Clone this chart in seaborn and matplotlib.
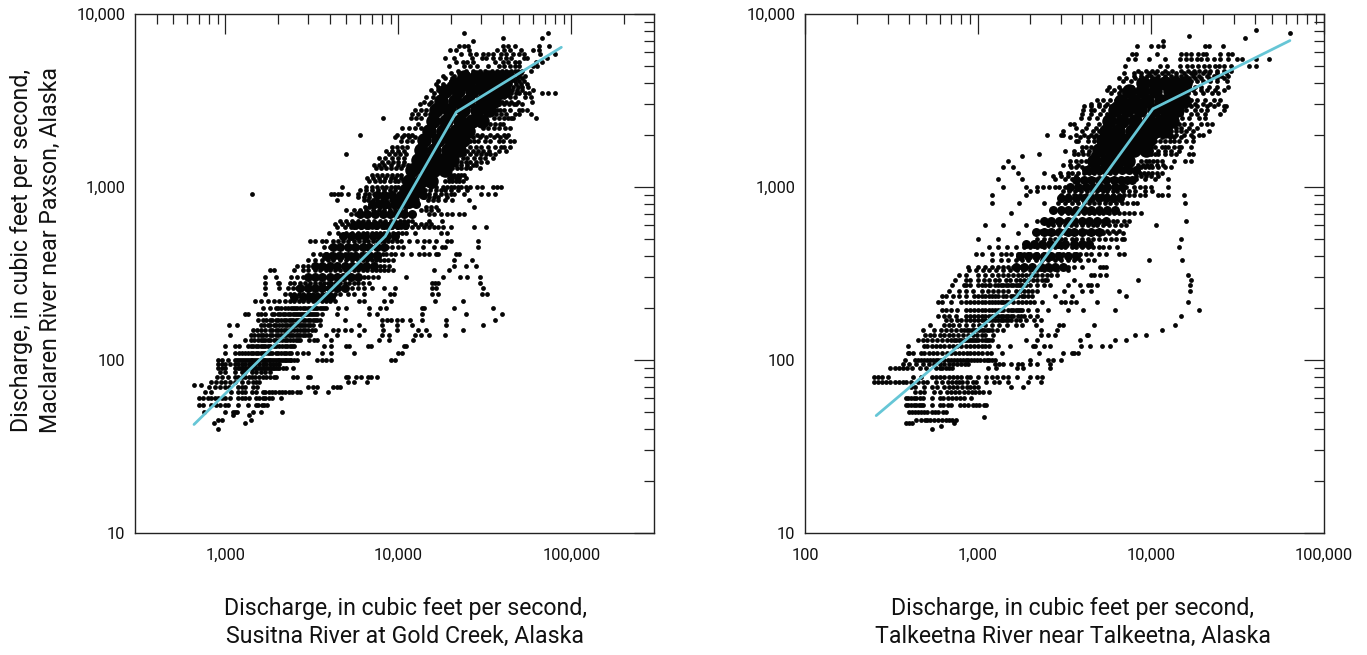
import matplotlib
matplotlib.use("Agg")
import matplotlib.pyplot as plt
import pandas as pd
import seaborn as sns
from matplotlib.ticker import FixedLocator, FuncFormatter, NullFormatter

# ── Data (cfs) ────────────────────────────────────────────────────────────────
# each entry is one Maclaren flow and the flows of the other river on those days
left_rows = {
    7800: [24000, 73500], 7300: [40000, 68000], 7000: [27000],
    6500: [22300, 24000, 25300, 40000, 43000, 47000, 65000, 74000],
    6200: [19800, 21500, 25500, 37000, 41000, 44000, 51000, 60000, 65000],
    5900: [23000, 26000, 28000, 31000, 33000, 35000, 39000, 42000, 46000, 50000, 53000, 66000, 80000],
    5600: [18500, 21000, 26500, 30500, 32000, 35000, 38500, 42000, 45000, 53000, 55000, 72000],
    5300: [21500, 23500, 25000, 27000, 36000, 40000, 43000, 47000, 50000, 62000, 68000],
    5000: [19500, 24000, 26000, 28500, 33000, 38000, 41000, 44000, 47000, 50000, 60000, 63000],
    4700: [22000, 24500, 27000, 29500, 31500, 34500, 37000, 39500, 42000, 44500, 47000, 49000, 52000, 58000],
    4550: [20000, 22500, 25000, 27500, 30000, 32500, 35500, 38500, 41000, 45000, 48500, 51000],
    4400: [18000, 21000, 23000, 25500, 28000, 30000, 33000, 36000, 40000, 43000, 46000, 50000, 54000],
    4250: [18500, 20500, 22500, 24500, 27000, 29500, 32000, 35000, 38500, 42000, 45500, 48500, 52000],
    4100: [17000, 20000, 21500, 24000, 26000, 28500, 31000, 34000, 37000, 41000, 44000, 47000, 50000, 53000],
    3950: [16500, 18000, 19500, 38000, 41500, 44000, 47500, 51000, 55000],
    3800: [17000, 19000, 38000, 40000, 43000, 46000, 49000, 52000, 56000],
    3650: [15500, 17000, 19000, 39000, 41500, 45500, 48500, 52000, 60000],
    3500: [16000, 18000, 40000, 42000, 44500, 47500, 50000, 54000, 57000, 68000, 73000, 80000],
    3300: [14500, 15800, 17500, 39000, 41000, 44000, 47000, 54000, 58000],
    3100: [14000, 15500, 37000, 39500, 42000, 45000, 49000, 59000],
    3000: [13300, 15000, 16500, 38000, 40500, 43500, 46500, 48000, 51500],
    2800: [12500, 13500, 14500, 37000, 38500, 41000, 44000, 50000, 52000, 55000],
    2650: [12000, 13000, 14200, 15200, 36500, 39000, 42000, 47000, 49500, 58000],
    2500: [8180, 11800, 12600, 13500, 35500, 38000, 40500, 43000, 45000, 46000, 62000],
    2300: [13000, 34000, 36000, 38500, 40000],
    2200: [10500, 11500, 12500, 13500, 31000, 33000, 35500, 38000, 41500, 44000],
    2000: [5970, 9800, 10700, 11400, 12000, 28500, 30500, 34000, 37000, 41000, 43000],
    1950: [9500, 10500, 11500, 12500, 27000, 29500, 32000, 35500, 38500, 42000],
    1850: [10300, 11200, 12000, 26000, 27500, 29000, 31500, 34000, 38000, 40000, 44000, 46500],
    1700: [9200, 9800, 10500, 11200, 26000, 28000, 30000, 33000, 36000, 39000, 41000, 44000],
    1620: [8500, 9200, 10000, 10800, 25000, 27000, 29000, 31000, 33500, 38000, 42000],
    1550: [4990, 8800, 9500, 10200, 11000, 24000, 26000, 28000, 30000, 32000, 34000, 36000],
    1480: [7700, 8400, 9200, 9900, 10800, 23500, 25000, 27500, 29500, 31500, 35000],
    1400: [8000, 8700, 9300, 10000, 10700, 23000, 24500, 26000, 28000, 30000, 32500],
    1340: [7200, 7700, 8300, 9000, 9900, 10600, 11300, 21500, 23000, 25000, 27000, 28000],
    1280: [7400, 7900, 8500, 9100, 9700, 10300, 20500, 21800, 23000, 24500, 26000, 29500],
    1180: [7000, 7500, 8000, 8600, 9200, 9800, 10400, 20000, 21000, 22000, 23000, 24000],
    1130: [6600, 7100, 7700, 8400, 9000, 9600, 10300, 19500, 20500, 21500, 22500, 24500],
    1090: [6800, 7300, 7800, 8300, 8900, 9500, 10000, 10600, 11300, 18500, 19500, 20500, 21500, 22500, 23500],
    1000: [4700, 6500, 7000, 7500, 8000, 8500, 9000, 9500, 10000, 10600, 15500, 16500, 18000, 19000, 20000, 21000,
           22000, 23000, 24500, 26000, 28500, 30500, 35000, 37000, 39000],
    960: [6000, 6500, 7000, 7600, 8200, 8900, 9500, 14200, 15200, 16500, 17500, 18500, 20000, 22000, 25000],
    915: [1415, 4050, 4250, 4450, 4650, 5100, 5800, 6400, 6800, 7200, 7700, 8200, 8700, 9200, 15000, 16200, 17500,
          18800, 20000, 21000, 24000, 30000, 33000, 36000],
    880: [5800, 6300, 6800, 7400, 8000, 8600, 9300, 10000, 14000, 15000, 16000, 17000, 19000],
    840: [4400, 6300, 6700, 7100, 7500, 8000, 8500, 9000, 9600, 10200, 14800, 15800, 17000, 18500, 20300, 25500],
    770: [6400, 6800, 7200, 7800, 8300, 8800, 9400, 9900, 10400, 11000, 14500, 15500, 16500, 27500],
    735: [5000, 5500, 6000, 6500, 7100, 7700, 8300, 8900, 9600, 10200, 10900, 13500, 14500, 15500, 17000],
    700: [5300, 5700, 6200, 6600, 7000, 7500, 8100, 8700, 9300, 9900, 10500, 11200, 15000, 16000, 17500, 19000,
          20500, 22500, 24000],
    640: [4600, 5000, 5400, 5800, 6200, 6700, 7200, 7800, 8400, 9000, 9600, 10200, 10800, 11400, 12000, 15100, 17800],
    615: [4300, 4700, 5100, 5500, 6000, 6500, 7000, 7500, 8100, 8700, 9300, 12500, 13500, 14500, 15500],
    590: [4400, 4900, 5300, 5700, 6100, 6500, 7000, 7500, 8000, 8600, 9200, 9800, 10400, 11000, 12000, 13000, 14000,
          15000, 16000, 17000, 18000, 20000, 27500, 32000],
    540: [3980, 4500, 5000, 5400, 5800, 6200, 6600, 7000, 7400, 7800, 8200, 8700, 9300, 9900, 10500, 11000, 12500,
          17500, 19000],
    490: [3100, 3300, 3600, 3800, 4200, 4500, 4800, 5100, 5500, 5900, 6300, 6700, 7100, 7500, 7900, 8300, 8700, 9200,
          9800, 10400, 11500, 12800, 14000, 15000, 16500, 19000, 20000, 29000],
    450: [3700, 4000, 4300, 4600, 5000, 5400, 5800, 6200, 6600, 7000, 7400, 7800, 8200, 8600, 9200, 10000, 10600,
          13800, 16000, 17800, 18700, 29000],
    410: [3200, 3500, 3800, 4100, 4500, 4900, 5300, 5700, 6100, 6500, 6900, 7300, 7700, 8100, 8500, 9000, 9500, 10500,
          11800, 13100, 14000, 15000, 16500, 17000, 21500, 22500],
    380: [3000, 3300, 3600, 3900, 4200, 4600, 5000, 5400, 5800, 6200, 6600, 7000, 7400, 7800, 8300, 8700, 9300, 21000,
          26500],
    350: [2600, 2800, 3000, 3300, 3500, 3800, 4200, 4500, 4900, 5300, 5700, 6100, 6500, 6900, 7300, 7800, 8200, 8800,
          21000, 24500, 28000],
    330: [1800, 1900, 2500, 2800, 3000, 3300, 3500, 3800, 4000, 4300, 4600, 4900, 5200, 5500, 5800, 6200, 6600, 7000,
          7400, 7800, 8300, 8700, 9300, 16000, 19500],
    300: [1690, 1950, 2400, 2600, 2800, 3000, 3200, 3500, 3700, 3900, 4200, 4400, 4700, 5000, 5300, 5600, 6000, 6300,
          6700, 7100, 7600, 11000, 18200, 22800, 25000, 29800],
    280: [1690, 2000, 2050, 2350, 2500, 2700, 2900, 3100, 3300, 3500, 3700, 3900, 4100, 4300, 4600, 4900, 5200, 5500,
          5800, 6200, 6800, 15700, 16300, 17000, 29500],
    262: [1690, 2030, 2300, 2450, 2600, 2800, 3000, 3150, 3400, 3600, 3800, 4000, 4300, 4600, 5000, 5400, 5800, 6300,
          7000, 8300, 9500, 15700, 16500, 31000],
    240: [1690, 2200, 2350, 2500, 2650, 2800, 3000, 3200, 3400, 3600, 3800, 4000, 4300, 4600, 5100, 5500, 6300, 8900,
          9400, 15700, 17000, 30500, 32500],
    220: [1480, 1600, 1750, 1900, 2050, 2200, 2350, 2500, 2650, 2800, 3000, 3200, 3400, 3600, 3800, 4000, 4300, 5900,
          6300, 8200, 9000, 16300, 23500],
    200: [1640, 1800, 1950, 2100, 2300, 2450, 2600, 2800, 3000, 3200, 3400, 3600, 3800, 4500, 5000, 6800, 7800, 8500,
          13600, 14000, 21000, 35000],
    184: [1290, 1350, 1550, 1600, 1700, 1850, 2000, 2150, 2300, 2450, 2600, 2750, 2900, 3050, 3200, 3400, 3600, 4400,
          6800, 7500, 13700, 24500, 39500],
    170: [1550, 1650, 1800, 1950, 2100, 2250, 2400, 2550, 2700, 2900, 3100, 3300, 3500, 4900, 8000, 8600, 9000, 9800,
          10500, 11700, 13600, 18900, 36000],
    160: [1050, 1170, 1600, 1750, 1900, 2050, 2200, 2350, 2500, 2650, 2800, 3000, 3200, 3500, 5900, 8000, 9800, 12000,
          18900, 31000],
    150: [1450, 1600, 1800, 1950, 2100, 2250, 2400, 2600, 2800, 3000, 3300, 4200, 4500, 4900, 5300, 6300, 8100, 9800,
          13000, 14500, 23500],
    140: [1060, 1400, 1550, 1650, 1800, 1950, 2100, 2250, 2400, 2550, 2700, 2900, 3100, 3800, 4400, 5900, 8000, 8800,
          12500, 13500, 15000, 18500],
    130: [1290, 1400, 1550, 1650, 1750, 1900, 2050, 2200, 2350, 2550, 2700, 3050, 3250, 3400, 4100, 7700, 8800, 12100],
    120: [1000, 1130, 1200, 1350, 1450, 1550, 1650, 1750, 1900, 2050, 2200, 2350, 2500, 3700, 4100, 5000, 5200, 6700,
          6900, 10800, 11000],
    110: [1000, 1130, 1200, 1300, 1400, 1500, 1600, 1700, 1800, 1950, 2100, 2250, 2400, 2600, 2800, 3000, 3600, 4100,
          5500, 10000, 10500],
    100: [900, 950, 1030, 1130, 1200, 1260, 1330, 1400, 1470, 1550, 1620, 1700, 1780, 1860, 1950, 2050, 2150, 2250,
          2350, 2500, 2600, 3400, 3600, 3800, 4100, 9000, 9500],
    95: [900, 950, 1000, 1060, 1130, 1180, 1240, 1300, 1360, 1420, 1490, 1560, 1640, 1720, 1800, 1880, 1950, 2050],
    90: [900, 950, 1000, 1130, 1180, 1240, 1300, 1360, 1420, 1490, 1560, 1640, 1720, 1800, 1880, 1950, 2050, 2150,
         2250, 2450],
    85: [930, 1000, 1130, 1240, 1300, 1420, 1500, 1600, 1700, 1800],
    80: [890, 960, 1040, 1130, 1180, 1240, 1300, 1360, 1420, 1490, 1560, 1640, 1720, 1800, 1900, 1970, 2450, 2600,
         3000, 3100, 4960, 5100, 5700, 6100, 6700, 6900, 7500],
    75: [830, 880, 940, 990, 1060, 1130, 1240, 1350, 1450, 1500, 1560, 5100, 5500, 6600],
    72: [660, 720],
    70: [800, 870, 930, 1000, 1050, 1180, 1240, 1290, 1450, 1530, 3000, 3200, 3400, 4200, 4400, 4600],
    65: [760, 830, 1080, 1180, 1240, 1300, 1420, 1500, 1640, 1700, 1780, 1850, 1940, 2030, 2120, 2220, 2320, 2430,
         2600, 2700, 3300, 3900],
    60: [700, 740, 790, 830, 870, 910, 950, 1000, 1060, 1180, 1240, 1300, 1360, 1500, 1560, 1640, 1700, 1780, 1850, 2100],
    55: [700, 740, 830, 880, 930, 1000, 1030, 1180, 1350, 1500, 1550, 1620, 1680, 1740],
    50: [750, 1000, 1100, 1130, 1170, 1450, 1600, 2120],
    48: [1100, 1360], 45: [900, 950, 1400], 43: [860, 1290], 40: [900],
}

# more days on the crowded low rows
left_low = {
    200: [2000, 2200, 2380, 2530, 2700, 2900, 3100, 3300, 3500, 3700],
    184: [1920, 2070, 2220, 2370, 2520, 2670, 2820, 2970, 3120, 3300],
    170: [1720, 1870, 2020, 2170, 2320, 2470, 2620, 2800, 3000, 3200, 3400],
    160: [1670, 1820, 1970, 2120, 2270, 2420, 2570, 2720, 2900, 3100],
    150: [1530, 1700, 1870, 2020, 2170, 2320, 2500, 2700, 2900, 3150],
    140: [1470, 1600, 1720, 1870, 2020, 2170, 2320, 2470, 2620, 2800, 3000],
    130: [1470, 1600, 1700, 1820, 1970, 2120, 2270, 2450, 2620],
    120: [1400, 1500, 1600, 1700, 1820, 1970, 2120, 2270, 2420],
    110: [1250, 1350, 1450, 1550, 1650, 1750, 1870, 2020, 2170, 2320],
    100: [1160, 1230, 1300, 1370, 1430, 1510, 1580, 1660, 1740, 1820, 1900, 2000, 2100, 2200, 2300, 2400],
    90: [1210, 1270, 1330, 1390, 1450, 1520, 1600, 1680, 1760, 1840, 1920, 2000],
}

# the black middle of the cloud, where single days cannot be told apart
left_core = {
    4300: [24000, 28000, 33000, 38000, 43000],
    3950: [21100, 25300, 30300, 35500, 41000],
    3610: [18500, 22100, 26500, 31700, 37000, 41000],
    3160: [17600, 21100, 25300, 30300, 35500],
    2770: [16500, 19700, 23700, 28300, 33200],
    2420: [15800, 18900, 22600, 26500, 30300],
    2120: [15100, 18000, 21600, 25300],
    1860: [14100, 16900, 20200, 23700],
    1630: [13500, 16100, 19300, 22300],
    1425: [12900, 15100, 17600, 20500],
    1250: [12000, 14100, 16100, 18500],
    1090: [11500, 13500, 15500],
    956: [11000, 12900],
    838: [10300, 12000],
}

# nearly black parts further down the band
left_mid = {
    900: [7500, 8300, 9200, 10200, 11300, 12500, 13800],
    800: [7000, 7700, 8500, 9400, 10400, 11500, 12700],
    700: [6000, 6600, 7300, 8100, 8900, 9800, 10800, 11900],
    600: [5500, 6100, 6700, 7400, 8200, 9000, 9900, 10900],
    520: [4800, 5300, 5800, 6400, 7100, 7800, 8600, 9500],
    450: [4200, 4600, 5100, 5600, 6200, 6800, 7500, 8300],
    400: [3800, 4200, 4600, 5100, 5600, 6200, 6800, 7500],
    350: [3300, 3600, 4000, 4400, 4900, 5400, 5900, 6500, 7200],
    300: [3000, 3300, 3600, 4000, 4400, 4800, 5300, 5800],
    260: [2700, 3000, 3300, 3600, 4000, 4400, 4900],
    230: [2500, 2800, 3100, 3400, 3700, 4100],
}

right_rows = {
    8100: [40300], 7750: [63200], 7500: [16500], 7280: [34900], 7000: [11700],
    6500: [8300, 9950, 11000, 11700, 20500, 21600, 26000],
    5900: [7750, 8180, 10800, 14900, 15900, 17000, 18600, 20000, 20900, 25000, 27800, 29500],
    5500: [7400, 8100, 9700, 12000, 14800, 16000, 17000, 18500, 19500, 21000, 23000, 25000, 28000, 31500, 33500, 40500, 48000],
    5000: [7100, 11200, 12300, 14700, 16200, 17200, 18800, 20300, 21600, 23300, 24800, 26500, 29000, 37000, 40500],
    4700: [8400, 9300, 10100, 10800, 12000, 13200, 15000, 16300, 17700, 19000, 20400, 22000, 24000, 26500, 29000],
    4550: [7000, 8000, 8800, 9800, 10500, 11500, 12500, 14000, 15500, 17000, 18000, 20000, 21500, 24000, 27000],
    4400: [8000, 8800, 9500, 10000, 11000, 12000, 13000, 14000, 15000, 16000, 17500, 19000, 21000, 23000, 25500, 28000],
    4250: [6500, 7200, 8100, 16500, 18000, 19500, 21500, 24000, 26500],
    4100: [6900, 7700, 14000, 15000, 16000, 17000, 18500, 20000, 22000, 24000, 27500],
    3800: [5700, 6500, 7400, 7800, 13500, 14500, 15500, 16500, 18000, 19500, 21500, 24000, 28000],
    3650: [5600, 6100, 6700, 16500, 17500, 19500, 21000, 23500, 26500],
    3500: [5900, 6500, 7000, 13800, 14500, 15300, 16300, 18000, 20000, 22500, 24500],
    3200: [4900, 5300, 5800, 6300, 14500, 15500, 17000, 18500, 20500, 23000, 25000],
    3000: [4500, 5000, 5600, 6100, 15000, 16500, 18000, 20000, 22000, 24500],
    2950: [4100, 4500, 5000, 5400, 5900, 14500, 15800, 17000, 18500, 21000, 23000, 26500, 27000],
    2800: [4050, 4500, 4700, 5300, 5900, 14000, 15000, 16000, 18000, 19500, 21000, 26500],
    2650: [4000, 4500, 5100, 5600, 14000, 15000, 17000, 18500, 20500, 25000],
    2500: [3950, 4400, 4900, 5700, 6000, 14000, 15200, 16500, 19000, 20500],
    2300: [3400, 3590, 4300, 5000, 5500, 5900, 12500, 13500, 14500, 15500, 17000, 19500, 21000, 22500],
    2200: [3700, 4200, 4800, 5300, 11500, 12800, 14000, 15000, 16500, 18500],
    2100: [3100, 4000, 4600, 5000, 5400, 5700, 11000, 12000, 13000, 14000, 15000, 16000, 17500, 21500],
    2000: [2500, 3000, 3100, 3700, 4100, 4500, 4800, 5200, 5500, 11000, 11800, 12500, 13000, 14000, 15500, 17000, 19000, 20000],
    1950: [3400, 3900, 4300, 4700, 10500, 11500, 12800, 13500, 15000, 17500],
    1850: [3700, 3800, 4300, 4700, 5000, 5400, 10500, 11200, 12000, 12800, 13500, 14500, 16000, 17500],
    1700: [4000, 4200, 4500, 4900, 5200, 5600, 6000, 9500, 10000, 10500, 11500, 12000, 12500, 13500, 14500, 15000, 17000],
    1620: [3200, 3600, 4000, 4400, 10000, 11000, 12000, 13000, 14500],
    1550: [2250, 3600, 3800, 4050, 4300, 4600, 5000, 5300, 5700, 6100, 9500, 10000, 10500, 11000, 12000, 13000, 14000, 16600, 17500],
    1510: [1790],
    1410: [1500, 3400, 3700, 3950, 4200, 4500, 4900, 5200, 5600, 6000, 6400, 8800, 9300, 9800, 10300, 10900, 11500, 13500, 15800, 17000],
    1340: [3100, 3400, 3800, 8400, 9000, 9500, 10000, 10800, 11800],
    1300: [1400, 1590, 3450, 3700, 4000, 4300, 4600, 5000, 5300, 5700, 6100, 6600, 8700, 9200, 9700, 10200, 11000, 12000, 13000],
    1200: [1700, 2410, 2990, 3300, 3500, 3800, 4100, 4400, 4700, 5000, 5400, 5800, 6200, 8100, 8600, 9100, 9600, 10200, 10900, 11500],
    1150: [2700, 3000, 3300, 3700, 8200, 8800, 9400, 10000, 11000],
    1110: [1300, 1790, 2800, 3200, 3500, 3800, 4100, 4400, 4700, 5100, 5500, 5900, 6300, 6700, 7100, 7600, 8200, 9200, 10500, 12500],
    1000: [1400, 1900, 2180, 2390, 2580, 2780, 2950, 3200, 3450, 3700, 4000, 4300, 4600, 4900, 5200, 5600, 6000, 6400, 6800, 7200,
           8000, 8600, 9200, 10000, 12500],
    950: [1990, 2180, 3100, 3350, 3650, 3950, 4250, 4550, 4900, 5250, 5600, 6000, 6400, 6900, 7500, 8100, 9200, 10100],
    900: [1200, 1900, 3000, 3300, 3600, 3900, 4200, 4500, 4800, 5200, 5600, 6000, 6500, 7000, 7500, 8000, 8600, 9200, 11000, 11500, 12500, 15500],
    810: [1200, 1730, 2410, 2900, 3200, 3500, 3800, 4100, 4400, 4700, 5000, 5400, 5800, 6300, 6800, 7300, 7900, 8300, 15800],
    710: [1550, 3000, 3300, 3500, 3800, 4100, 4400, 4700, 5000, 5300, 5700, 6100, 6500, 7000, 7500, 8000, 8800],
    640: [2200, 2700, 2900, 3100, 3300, 3600, 3900, 4200, 4500, 4800, 5200, 5600, 6000, 6400, 7000, 7500, 15900],
    605: [1100, 1400, 1900, 2550, 2700, 2950, 3200, 3450, 3700, 4000, 4300, 4600, 4900, 5300, 5700, 6200, 6700, 7200, 10700],
    560: [2300, 2500, 2700, 2900, 3100, 3300, 3600, 3900, 4200, 4500, 4800, 5200, 5600, 6000, 6500],
    540: [1700, 2350, 2550, 2750, 3000, 3200, 3400, 3700, 4000, 4300, 4600, 4900, 5300, 5700, 6300, 6900],
    500: [1000, 1300, 2200, 2400, 2600, 2800, 3000, 3200, 3500, 3700, 4000, 4300, 4600, 5000, 5400, 5900, 6300, 6800, 7000, 15000],
    450: [1150, 1300, 1480, 1650, 1850, 2000, 2200, 2400, 2600, 2800, 3000, 3200, 3500, 3700, 4000, 4300, 4600, 5000, 5300, 5700, 6400, 14500],
    410: [980, 1060, 1200, 1350, 1450, 1550, 1700, 1850, 2000, 2200, 2400, 2600, 2850, 3100, 3300, 3600, 3900, 4200, 4500, 5000, 5500, 6500, 7000],
    380: [1200, 1350, 1500, 1650, 1800, 1950, 2150, 2350, 2550, 2800, 3000, 3300, 3600, 3900, 4300, 4700, 9700, 15100],
    345: [880, 1000, 1100, 1200, 1300, 1400, 1500, 1600, 1750, 1900, 2050, 2250, 2450, 2650, 2850, 3100, 3300, 3600, 4000, 5050, 5300, 5500],
    330: [890, 970, 1065, 1165, 1275, 1400, 1530, 1670, 1830, 2000, 2190, 2395, 2620, 2870, 3300],
    310: [780, 850, 1000, 1100, 1200, 1300, 1400, 1500, 1600, 1700, 1800, 1900, 2000, 2100, 2200, 2350, 2500, 2650, 2850, 4500, 4700, 5050, 5500, 16400],
    290: [740, 850, 900, 1000, 1080, 1165, 1250, 1330, 1450, 1530, 1650, 1750, 1850, 1950, 2080, 2200, 2350, 2450, 2500, 3600, 8450, 17000],
    270: [710, 830, 850, 900, 1000, 1100, 1180, 1300, 1400, 1500, 1600, 1700, 1750, 1900, 2000, 2200, 2400, 2600, 3300, 3900, 4300, 4500, 4900, 16900],
    250: [680, 780, 850, 930, 1050, 1140, 1220, 1300, 1400, 1500, 1650, 1750, 1850, 1950, 2050, 2200, 3150, 4000, 4500, 6500, 16800],
    235: [620, 650, 720, 780, 850, 950, 1050, 1150, 1250, 1400, 1550, 1650, 1800, 1950, 2050, 2800, 3500, 7200],
    215: [590, 620, 700, 800, 850, 900, 950, 1050, 1150, 1250, 1350, 1450, 1600, 1800, 1900, 2000, 2100, 2350, 3000, 3200, 3450, 3700, 4900, 16300],
    195: [620, 650, 700, 760, 850, 950, 1050, 1150, 1250, 1350, 1500, 1600, 1700, 1800, 1950, 2200, 2550, 3300, 4050, 6200, 19000],
    180: [590, 640, 680, 750, 850, 950, 1050, 1150, 1250, 1350, 1450, 1550, 1700, 1850, 2000, 2200, 15000],
    170: [650, 700, 760, 850, 950, 1050, 1150, 1250, 1350, 1450, 1550, 1750, 1900, 2100, 2300],
    160: [530, 640, 680, 720, 780, 850, 930, 1010, 1100, 1200, 1330, 1470, 1650, 1800, 2150, 2950, 3100, 4700, 13800],
    150: [480, 560, 610, 650, 700, 750, 800, 860, 920, 980, 1050, 1130, 1200, 2300, 2850, 11500],
    140: [495, 530, 560, 600, 640, 680, 720, 770, 820, 870, 930, 990, 1050, 1100, 1220, 2300, 2550, 2800, 4250, 4350, 8100, 9300],
    130: [450, 480, 510, 540, 580, 620, 660, 700, 750, 800, 850, 900, 950, 1000, 1100, 1150, 1210, 1900, 2200, 3900, 6200, 7200],
    120: [395, 490, 510, 540, 570, 600, 640, 680, 720, 760, 800, 850, 900, 950, 1000, 1050, 1100, 1150, 1300, 1530, 2080, 2130, 2400, 2600, 3950, 4420, 5200, 5800],
    110: [395, 400, 420, 470, 490, 520, 550, 580, 620, 660, 700, 740, 780, 820, 860, 900, 950, 1000, 1060, 1120, 1190, 1380, 2250, 3100, 3500, 3600, 3800],
    100: [380, 430, 450, 470, 490, 510, 530, 550, 570, 590, 610, 640, 670, 700, 730, 760, 790, 820, 850, 880, 910, 950, 990, 1030, 1080, 1120, 1160, 1200, 1250, 2000, 2550, 2700, 3000],
    95: [370, 400, 440, 480, 520, 560, 600, 640, 680, 720, 760, 800, 840, 880, 1250, 1330, 1400, 1550, 1700, 1800, 2000, 2200, 2600],
    90: [310, 330, 350, 370, 390, 415, 460, 500, 570, 600, 620, 650, 680, 710, 1140, 1270, 1670, 1830, 2600],
    80: [252, 265, 280, 300, 420, 470, 540, 570, 600, 640, 680, 720, 760, 800, 860, 900, 1000, 1115, 1200, 1280, 1400, 1500, 1670, 2000, 2200, 2350],
    75: [252, 265, 280, 295, 310, 330, 350, 370, 385, 410, 450, 480, 510, 570, 620, 670, 710, 750, 780, 810, 860, 930, 980, 1115, 1230, 1330, 1500, 1950, 2300],
    70: [410, 430, 490, 540, 580, 640, 680, 720, 760, 810, 860, 900, 950, 1000, 1550, 1830],
    65: [430, 460, 490, 560, 600, 660, 700, 740, 780, 830, 880, 920, 960, 1010, 1065, 1165],
    60: [385, 395, 410, 425, 440, 460, 480, 545, 600, 630, 670, 710, 750, 790, 830, 910],
    55: [385, 395, 410, 425, 440, 455, 470, 480, 545, 600, 630, 670, 700, 790, 830, 880, 930, 975, 1020, 1090, 1115],
    50: [400, 415, 430, 450, 470, 490, 510, 545, 565, 590, 625, 650],
    47: [1090],
    45: [440, 470, 495, 510, 530, 560, 590, 620, 650, 680, 710, 745],
    43.5: [385, 400, 415, 730], 41.5: [615], 40: [540],
}

right_low = {
    270: [1050, 1150, 1250, 1350, 1450, 1550, 1650, 1800],
    235: [1000, 1100, 1200, 1300, 1450, 1600, 1700, 1850],
    215: [1000, 1100, 1200, 1300, 1400, 1500, 1700],
    195: [900, 1000, 1100, 1200, 1300, 1400, 1550, 1650, 1750],
    180: [900, 1000, 1100, 1200, 1300, 1400, 1500, 1600, 1770],
    170: [800, 900, 1000, 1100, 1200, 1300, 1400, 1500, 1650],
    150: [830, 890, 950, 1010, 1090, 1160, 1280, 1400],
    130: [725, 775, 825, 875, 925, 975, 1050, 1130],
}

right_core = {
    4000: [9000, 10500, 12000, 13800, 15800],
    3610: [7500, 8870, 10600, 12800, 15000],
    3160: [6700, 7930, 9500, 11350, 13400, 15600],
    2770: [6200, 7240, 8680, 10400, 12200, 14200],
    2420: [5700, 6770, 8100, 9700, 11400, 13300],
    2120: [5500, 6470, 7750, 9050, 10500, 12000],
    1860: [5300, 6190, 7240, 8480, 9800],
    1630: [5000, 5900, 6900, 8000, 9300],
    1420: [4700, 5500, 6400, 7400],
}

right_mid = {
    1250: [4200, 4600, 5100, 5600, 6200, 6800, 7500, 8200],
    1100: [3700, 4100, 4500, 5000, 5500, 6100, 6700, 7300, 7800],
    1000: [3400, 3800, 4200, 4600, 5100, 5600, 6200, 6800],
    860: [3000, 3300, 3700, 4100, 4500, 5000, 5500, 6000, 6600],
    740: [2700, 3000, 3300, 3700, 4100, 4500, 5000, 5600, 6200],
    640: [2400, 2650, 2950, 3300, 3600, 4000, 4400, 4900, 5500],
    550: [2150, 2400, 2650, 2950, 3300, 3600, 4000, 4500, 5000],
    470: [1900, 2100, 2350, 2600, 2900, 3200, 3600, 4000, 4400],
    400: [1750, 1950, 2150, 2400, 2650, 2950, 3300, 3700],
    345: [1650, 1850, 2050, 2300, 2550, 2800, 3100],
}

# fitted broken lines
left_line_x = [658, 8390, 21600, 87400]
left_line_y = [42.4, 519, 2710, 6420]
right_line_x = [258, 1670, 10260, 63500]
right_line_y = [47.7, 232, 2830, 7020]

left_xticks = [1000, 10000, 100000]
right_xticks = [100, 1000, 10000, 100000]
yticks = [10, 100, 1000, 10000]

left_xlabel = "Discharge, in cubic feet per second,\nSusitna River at Gold Creek, Alaska"
right_xlabel = "Discharge, in cubic feet per second,\nTalkeetna River near Talkeetna, Alaska"
ylabel = "Discharge, in cubic feet per second,\nMaclaren River near Paxson, Alaska"

LINE_COLOR = "#66C6D6"
FIG_W, FIG_H = 1367, 655
LABEL_SIZE = 16.7

sns.set_theme(style="white")
plt.rcParams["font.family"] = ["Roboto", "Liberation Sans", "DejaVu Sans"]


def rows_to_df(rows):
    recs = [(x, y) for y, xs in rows.items() for x in xs]
    return pd.DataFrame(recs, columns=["x", "y"])


def fmt_comma(v, _pos):
    return f"{v:,.0f}"


def draw_panel(ax, rows, low, mid, core, line_x, line_y, xlim, xticks, xminor):
    for data, size in ((core, 110), (mid, 42), (rows, 12), (low, 12)):
        sns.scatterplot(data=rows_to_df(data), x="x", y="y", s=size, color="#050505",
                        linewidth=0, legend=False, ax=ax, zorder=2)
    line = pd.DataFrame({"x": line_x, "y": line_y})
    sns.lineplot(data=line, x="x", y="y", sort=False, estimator=None, color=LINE_COLOR,
                 linewidth=2.0, legend=False, ax=ax, zorder=3)

    ax.set_xscale("log")
    ax.set_yscale("log")
    ax.set_xlim(*xlim)
    ax.set_ylim(10, 10000)
    ax.xaxis.set_major_locator(FixedLocator(xticks))
    ax.xaxis.set_minor_locator(FixedLocator(xminor))
    ax.yaxis.set_major_locator(FixedLocator(yticks))
    ax.yaxis.set_minor_locator(FixedLocator([m * d for d in (10, 100, 1000) for m in range(2, 10)]))
    ax.xaxis.set_major_formatter(FuncFormatter(fmt_comma))
    ax.yaxis.set_major_formatter(FuncFormatter(fmt_comma))
    ax.xaxis.set_minor_formatter(NullFormatter())
    ax.yaxis.set_minor_formatter(NullFormatter())
    ax.tick_params(which="major", direction="in", length=14.4, width=0.9, top=True, right=True,
                   labelsize=11.8, color="#222222", labelcolor="#111111")
    ax.tick_params(which="minor", direction="in", length=7.2, width=0.9, top=True, right=True,
                   color="#222222")
    ax.tick_params(axis="x", which="major", pad=11)
    ax.tick_params(axis="y", which="major", pad=7)
    for spine in ax.spines.values():
        spine.set_linewidth(1.0)
        spine.set_color("#222222")
    ax.grid(False)


fig = plt.figure(figsize=(FIG_W / 100, FIG_H / 100), dpi=100, facecolor="white")
ax_l = fig.add_axes([135 / FIG_W, (FIG_H - 533) / FIG_H, 519 / FIG_W, 519 / FIG_H])
ax_r = fig.add_axes([805 / FIG_W, (FIG_H - 533) / FIG_H, 519 / FIG_W, 519 / FIG_H])

draw_panel(ax_l, left_rows, left_low, left_mid, left_core, left_line_x, left_line_y, (300, 300000), left_xticks,
           [m * d for d in (100, 1000, 10000) for m in range(2, 10) if m * d > 300] + [200000])
draw_panel(ax_r, right_rows, right_low, right_mid, right_core, right_line_x, right_line_y, (100, 100000), right_xticks,
           [m * d for d in (100, 1000, 10000) for m in range(2, 10)])

ax_l.set_xlabel(left_xlabel, fontsize=LABEL_SIZE, color="#111111", linespacing=1.3, va="center")
ax_r.set_xlabel(right_xlabel, fontsize=LABEL_SIZE, color="#111111", linespacing=1.3, va="center")
ax_l.xaxis.set_label_coords(0.521, -0.172)
ax_r.xaxis.set_label_coords(0.516, -0.172)
ax_l.set_ylabel(ylabel, fontsize=LABEL_SIZE, color="#111111", linespacing=1.3, va="center")
ax_l.yaxis.set_label_coords(-0.191, 0.545)
ax_r.set_ylabel("")

fig.savefig("out.png", dpi=100)
